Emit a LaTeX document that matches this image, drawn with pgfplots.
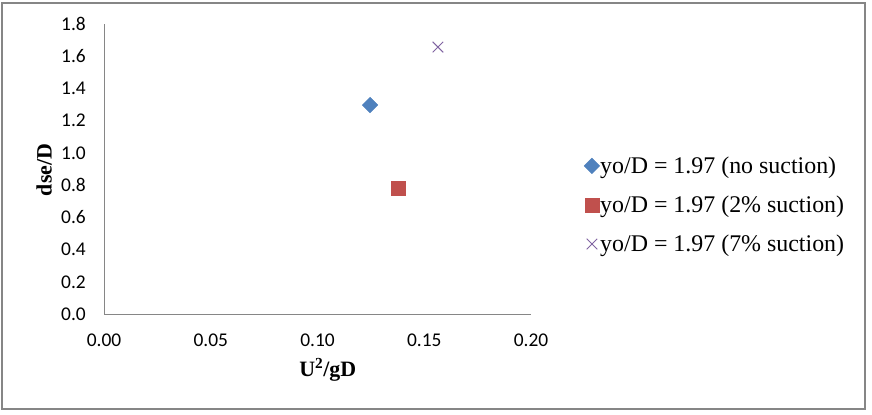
\documentclass[border=0pt]{standalone}
\usepackage{fontspec}
\setmainfont{Liberation Serif}
\newfontfamily\carlito{Carlito}
\usepackage{pgfplots}
\pgfplotsset{compat=1.18}
\definecolor{sblue}{HTML}{4F81BD}
\definecolor{sred}{HTML}{C0504D}
\definecolor{spurple}{HTML}{8064A2}
\definecolor{agray}{HTML}{868686}
\begin{document}
\begin{tikzpicture}[x=1bp,y=1bp]
\path (0,0) rectangle (872,414);
\draw[agray, line width=1.2bp] (2,5) rectangle (865,411);
\begin{axis}[
  at={(104bp,100bp)}, anchor=south west,
  scale only axis, width=427bp, height=290bp,
  xmin=0, xmax=0.2, ymin=0, ymax=1.8,
  xtick={0,0.05,0.1,0.15,0.2},
  ytick={0,0.2,...,1.8},
  axis x line*=bottom, axis y line*=left,
  axis line style={agray, line width=0.9bp, -},
  major tick length=0pt,
  /pgf/number format/assume math mode=true,
  xticklabel={\pgfmathprintnumber[fixed,fixed zerofill,precision=2]{\tick}},
  yticklabel={\pgfmathprintnumber[fixed,fixed zerofill,precision=1]{\tick}},
  tick label style={font=\carlito\fontsize{19.5}{21}\selectfont, inner sep=0pt},
  xticklabel style={anchor=north, yshift=-20bp},
  yticklabel style={anchor=east, xshift=-18bp},
  clip=false,
  legend style={draw=none, fill=none, at={(1.124,0.376)}, anchor=west,
    font=\fontsize{24}{26}\selectfont, row sep=20bp, inner sep=0pt,
    nodes={inner sep=0.5bp}, /tikz/every even column/.style={column sep=3bp}},
  legend cell align=left,
  legend image code/.code={\draw[mark repeat=2,mark phase=2,#1] plot coordinates {(0bp,0bp) (8bp,0bp) (16bp,0bp)};},
]
\addplot[only marks, mark=square*, mark options={rotate=45, fill=sblue, draw=sblue}, mark size=5.5bp]
  coordinates {(0.1246,1.297)};
\addlegendentry{yo/D = 1.97 (no suction)}
\addplot[only marks, mark=square*, mark options={fill=sred, draw=sred}, mark size=7bp]
  coordinates {(0.1377,0.782)};
\addlegendentry{yo/D = 1.97 (2\% suction)}
\addplot[only marks, mark=x, mark options={draw=spurple, line width=0.9bp}, mark size=7.5bp]
  coordinates {(0.1564,1.657)};
\addlegendentry{yo/D = 1.97 (7\% suction)}
\node[rotate=90, font=\bfseries\fontsize{22}{24}\selectfont] at (axis description cs:-0.1405,0.497) {dse/D};
\node[font=\bfseries\fontsize{22}{24}\selectfont] at (axis description cs:0.524,-0.193) {U\textsuperscript{2}/gD};
\end{axis}
\end{tikzpicture}
\end{document}
